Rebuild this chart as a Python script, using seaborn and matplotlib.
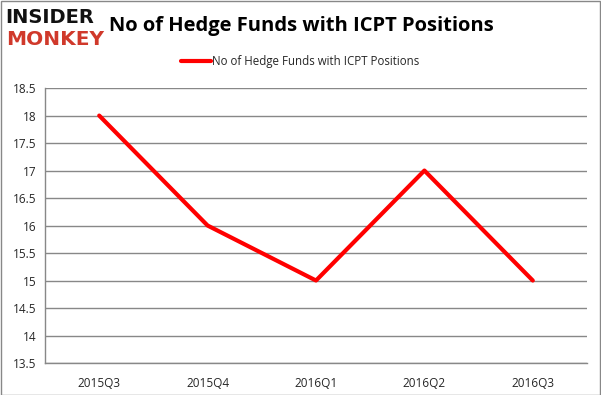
import matplotlib
matplotlib.use("Agg")
import matplotlib.pyplot as plt
import seaborn as sns
import pandas as pd

# data
quarters = ["2015Q3", "2015Q4", "2016Q1", "2016Q2", "2016Q3"]
funds = [18, 16, 15, 17, 15]
yticks = [13.5, 14, 14.5, 15, 15.5, 16, 16.5, 17, 17.5, 18, 18.5]
series_name = "No of Hedge Funds with ICPT Positions"

df = pd.DataFrame({"pos": range(len(quarters)), "funds": funds})

sns.set_style("white")
plt.rcParams["font.family"] = ["Open Sans", "DejaVu Sans"]

fig = plt.figure(figsize=(6.01, 3.95), dpi=100)
ax = fig.add_axes([0.0749, 0.081, 0.9018, 0.696])

sns.lineplot(data=df, x="pos", y="funds", color="#ff0000", linewidth=3, ax=ax, legend=False)

ax.set_xlim(-0.5, len(quarters) - 0.5)
ax.set_ylim(13.5, 18.5)
ax.set_yticks(yticks)
ax.set_yticklabels([f"{v:g}" for v in yticks], fontsize=8.5)
ax.set_xticks(range(len(quarters)))
ax.set_xticklabels(quarters, fontsize=8.5)
ax.set_xticks([i - 0.5 for i in range(len(quarters) + 1)], minor=True)
ax.tick_params(axis="x", which="major", length=0, pad=10)
ax.tick_params(axis="x", which="minor", length=4, color="#888888", direction="out")
ax.tick_params(axis="y", length=4, color="#888888", direction="out", pad=2)
ax.yaxis.grid(True, color="#888888", linewidth=1)
ax.set_xlabel("")
ax.set_ylabel("")
for s in ["top", "right"]:
    ax.spines[s].set_visible(False)
for s in ["left", "bottom"]:
    ax.spines[s].set_color("#888888")
    ax.spines[s].set_linewidth(1)

# legend
ax.plot([], [], color="#ff0000", linewidth=3, label=series_name)
fig.legend(loc="center", bbox_to_anchor=(0.5, 0.845), frameon=False, fontsize=8.3,
           handlelength=2.6, handletextpad=0.1)

# title and logo
fig.text(0.502, 0.935, series_name, ha="center", va="center", fontsize=14.5,
         fontweight="bold", color="black")
fig.text(0.008, 0.955, "INSIDER", ha="left", va="center", fontsize=14,
         fontweight="heavy", color="#111111", family="DejaVu Sans")
fig.text(0.01, 0.9, "MONKEY", ha="left", va="center", fontsize=14.5,
         fontweight="heavy", color="#d0392b", family="DejaVu Sans")

# figure border
fig.patches.append(plt.Rectangle((0.001, 0.001), 0.997, 0.997, transform=fig.transFigure,
                                 fill=False, edgecolor="#888888", linewidth=1))

fig.savefig("out.png", dpi=100)
